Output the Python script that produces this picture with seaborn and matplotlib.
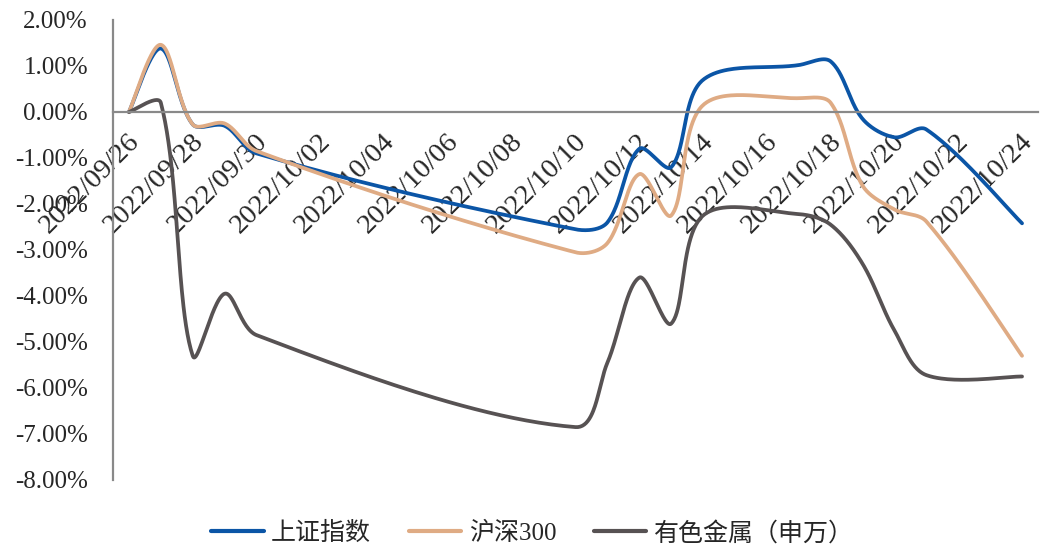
import numpy as np
import pandas as pd
import seaborn as sns
import matplotlib.pyplot as plt
import matplotlib.transforms as mtransforms

# trading days shown in the chart
dates = ['2022-09-26', '2022-09-27', '2022-09-28', '2022-09-29', '2022-09-30',
         '2022-10-10', '2022-10-11', '2022-10-12', '2022-10-13', '2022-10-14',
         '2022-10-17', '2022-10-18', '2022-10-19', '2022-10-20', '2022-10-21',
         '2022-10-24']

# cumulative change, %
sh_index = [0.00, 1.38, -0.27, -0.30, -0.90, -2.55, -2.40, -0.80, -1.20, 0.70,
            1.02, 1.10, -0.15, -0.55, -0.38, -2.42]
hs300 = [0.00, 1.46, -0.27, -0.25, -0.85, -3.05, -2.85, -1.35, -2.25, 0.15,
         0.30, 0.20, -1.60, -2.12, -2.38, -5.30]
metals = [0.00, 0.20, -5.30, -3.95, -4.85, -6.85, -5.45, -3.60, -4.60, -2.25,
          -2.22, -2.45, -3.30, -4.75, -5.72, -5.75]

series_names = ['上证指数', '沪深300', '有色金属（申万）']
colors = ['#0B55A6', '#DFAB84', '#575253']

x_labels = ['2022/09/26', '2022/09/28', '2022/09/30', '2022/10/02', '2022/10/04',
            '2022/10/06', '2022/10/08', '2022/10/10', '2022/10/12', '2022/10/14',
            '2022/10/16', '2022/10/18', '2022/10/20', '2022/10/22', '2022/10/24']
y_ticks = [2, 1, 0, -1, -2, -3, -4, -5, -6, -7, -8]

day = (pd.to_datetime(dates) - pd.Timestamp('2022-09-26')).days.to_numpy().astype(float)

# rough screen scale (px per day, px per %), used only to shape the smoothing
SX, SY = 31.9, 45.8


def smooth(x, y, n=50):
    # excel-like smoothed line: bezier, tangents scaled by chord length
    p = np.column_stack([np.asarray(x, float) * SX, np.asarray(y, float) * SY])
    m = len(p)
    tang = np.zeros_like(p)
    d = np.linalg.norm(np.diff(p, axis=0), axis=1)
    for i in range(m):
        tang[i] = p[min(i + 1, m - 1)] - p[max(i - 1, 0)]
    t = np.linspace(0, 1, n)
    out = []
    for i in range(m - 1):
        dl = d[i - 1] if i > 0 else 0.0
        dr = d[i + 1] if i < m - 2 else 0.0
        k1 = d[i] / (dl + d[i]) / 3 if i > 0 else 1 / 6
        k2 = d[i] / (d[i] + dr) / 3 if i < m - 2 else 1 / 6
        p0, p3 = p[i], p[i + 1]
        c1 = p0 + tang[i] * k1
        c2 = p3 - tang[i + 1] * k2
        b = ((1 - t) ** 3)[:, None] * p0 + (3 * (1 - t) ** 2 * t)[:, None] * c1 \
            + (3 * (1 - t) * t ** 2)[:, None] * c2 + (t ** 3)[:, None] * p3
        out.append(b if i == 0 else b[1:])
    out = np.vstack(out)
    return out[:, 0] / SX, out[:, 1] / SY


frames = []
for name, vals in zip(series_names, [sh_index, hs300, metals]):
    sx, sy = smooth(day, vals)
    frames.append(pd.DataFrame({'x': sx, 'y': sy, 'series': name}))
df = pd.concat(frames, ignore_index=True)

sns.set_style('white')
plt.rcParams['font.family'] = ['Liberation Serif', 'Noto Sans CJK SC']

fig = plt.figure(figsize=(10.42, 5.48), dpi=100)
ax = fig.add_axes([113 / 1042, 1 - 480 / 548, (1038 - 113) / 1042, 460 / 548])

sns.lineplot(data=df, x='x', y='y', hue='series', palette=colors, sort=False,
             estimator=None, linewidth=2.7, ax=ax)

ax.set_xlim(-0.5, 28.5)
ax.set_ylim(-8, 2)
ax.set_xlabel('')
ax.set_ylabel('')

for s in ['top', 'right']:
    ax.spines[s].set_visible(False)
ax.spines['bottom'].set_position(('data', 0))
for s in ['left', 'bottom']:
    ax.spines[s].set_color('#898989')
    ax.spines[s].set_linewidth(1.6)

ax.set_yticks(y_ticks)
ax.set_yticklabels(['{:.2f}%'.format(v) for v in y_ticks], fontsize=18)
ax.tick_params(axis='y', direction='out', length=7, width=1.6, color='#898989', pad=11)

ax.set_xticks(np.arange(-0.5, 28, 2))
ax.set_xticklabels([])
ax.set_xticks(np.arange(0, 29, 2), x_labels, minor=True)
ax.tick_params(axis='x', which='major', direction='out', length=6, width=1.6, color='#898989')
ax.tick_params(axis='x', which='minor', length=0, pad=12)
shift = mtransforms.ScaledTranslation(-2 / 100, 0, fig.dpi_scale_trans)
for lab in ax.get_xticklabels(minor=True):
    lab.set_rotation(45)
    lab.set_ha('right')
    lab.set_va('top')
    lab.set_rotation_mode('anchor')
    lab.set_fontsize(20.5)
    lab.set_transform(lab.get_transform() + shift)

handles, labels = ax.get_legend_handles_labels()
for h in handles:
    h.set_linewidth(3)
ax.legend(handles, labels, loc='center', bbox_to_anchor=(0.511, 0.027),
          bbox_transform=fig.transFigure, ncol=3, frameon=False, fontsize=18,
          handlelength=2.1, handletextpad=0.3, columnspacing=1.5)

fig.savefig('out.png', dpi=100)
